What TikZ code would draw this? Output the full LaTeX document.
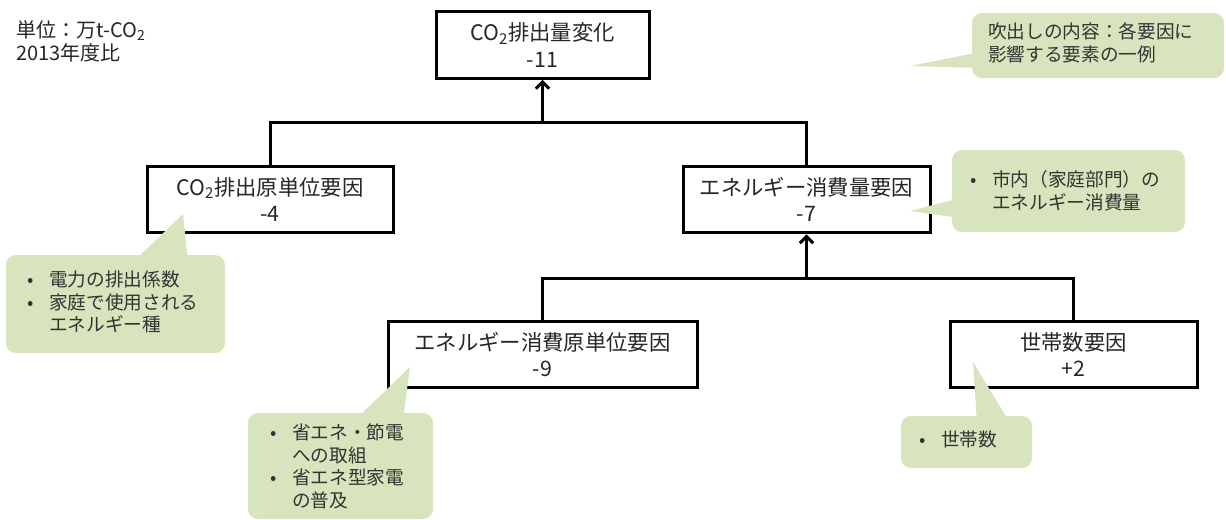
\documentclass[tikz,border=0pt]{standalone}
\usepackage{fontspec}
\setmainfont{Noto Sans CJK JP}
\usetikzlibrary{arrows.meta}
\definecolor{calloutgreen}{HTML}{D7E4BD}
\definecolor{boxtext}{HTML}{262626}
\definecolor{calltext}{HTML}{333333}
\newcommand{\itm}{\makebox[16.5pt][l]{•}}
\newcommand{\ind}{\hspace*{16.5pt}}
\begin{document}
\begin{tikzpicture}[x=0.75pt,y=-0.75pt,
  factor/.style={draw=black, line width=2.25pt, fill=white, inner sep=0pt, align=center,
    text=boxtext, font=\fontsize{16}{20}\selectfont, minimum height=50pt},
  link/.style={line width=2.25pt},
  callbox/.style={fill=calloutgreen, rounded corners=7.5pt, inner sep=0pt},
  pointer/.style={fill=calloutgreen},
  calltxt/.style={inner sep=0pt, anchor=base west, text=calltext, font=\fontsize{14}{17}\selectfont},
]
\useasboundingbox (0,0) rectangle (1226,519);

% unit label
\node[inner sep=0pt, anchor=base west, text=boxtext, font=\fontsize{15}{15.5}\selectfont] (unit) at (16,37)
  {\begin{tabular}[t]{@{}l@{}}単位：万t-CO\textsubscript{2}\\2013年度比\end{tabular}};

% factor boxes
\node[factor, minimum width=159.75pt] (top) at (542.5,45) {CO\textsubscript{2}排出量変化\\-11};
\node[factor, minimum width=184.5pt] (ci) at (270,199.5) {CO\textsubscript{2}排出原単位要因\\-4};
\node[factor, minimum width=185.25pt] (en) at (806.5,199.5) {エネルギー消費量要因\\-7};
\node[factor, minimum width=231.75pt] (ei) at (542.5,354.5) {エネルギー消費原単位要因\\-9};
\node[factor, minimum width=185.25pt] (hh) at (1073.5,354.5) {世帯数要因\\+2};

% connectors
\coordinate (j1) at (542.5,122);
\coordinate (j2) at (806.5,278);
\draw[link] (ci.north) -- (ci.north |- j1) -- (en.north |- j1) -- (en.north);
\draw[link,-{Straight Barb[length=5pt,width=10pt]}] (j1) -- (top.south);
\draw[link] (ei.north) -- (ei.north |- j2) -- (hh.north |- j2) -- (hh.north);
\draw[link,-{Straight Barb[length=5pt,width=10pt]}] (j2) -- (en.south);

% callouts
\coordinate (tTR) at (910,66);
\coordinate (tB) at (910,211);
\coordinate (tA) at (183,214);
\coordinate (tC) at (410,367);
\coordinate (tD) at (973,362);

\node[callbox, minimum width=189pt, minimum height=48.75pt] (cTR) at (1098,45.5) {};
\fill[pointer] (tTR) -- (980,52) -- (980,68) -- cycle;
\node[callbox, minimum width=174.75pt, minimum height=61.5pt] (cB) at (1068.5,191) {};
\fill[pointer] (tB) -- (960,198) -- (960,218) -- cycle;
\node[callbox, minimum width=164.25pt, minimum height=73.5pt] (cA) at (115.5,304) {};
\fill[pointer] (tA) -- (133,262) -- (188,262) -- cycle;
\node[callbox, minimum width=138.75pt, minimum height=79.5pt] (cC) at (340.5,466) {};
\fill[pointer] (tC) -- (355,420) -- (403,420) -- cycle;
\node[callbox, minimum width=98.25pt, minimum height=39pt] (cD) at (966.5,442) {};
\fill[pointer] (tD) -- (977,423) -- (1010,423) -- cycle;

% callout texts
\node[calltxt] (xTR) at (988,38.5)
  {\begin{tabular}[t]{@{}l@{}}吹出しの内容：各要因に\\影響する要素の一例\end{tabular}};
\node[calltxt] (xB) at (970,186.5)
  {\begin{tabular}[t]{@{}l@{}}\itm 市内（家庭部門）の\\\ind エネルギー消費量\end{tabular}};
\node[calltxt] (xA) at (27,286.5)
  {\begin{tabular}[t]{@{}l@{}}\itm 電力の排出係数\\\itm 家庭で使用される\\\ind エネルギー種\end{tabular}};
\node[calltxt] (xC) at (270,439.5)
  {\begin{tabular}[t]{@{}l@{}}\itm 省エネ・節電\\\ind への取組\\\itm 省エネ型家電\\\ind の普及\end{tabular}};
\node[calltxt] (xD) at (919,446.5)
  {\begin{tabular}[t]{@{}l@{}}\itm 世帯数\end{tabular}};
\end{tikzpicture}
\end{document}
